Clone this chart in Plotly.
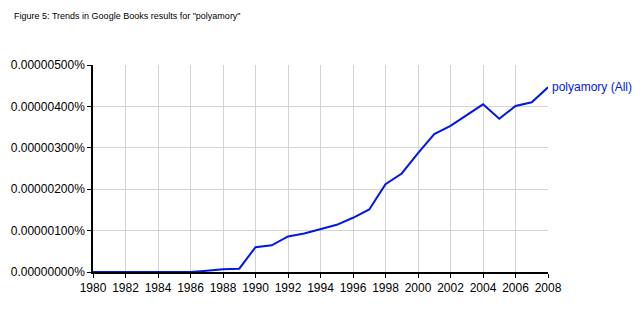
import plotly.graph_objects as go

years = list(range(1980, 2009))
# values in percent
values = [0, 0, 0, 0, 0, 0, 0, 0.03e-6, 0.065e-6, 0.08e-6,
          0.60e-6, 0.645e-6, 0.86e-6, 0.93e-6, 1.04e-6, 1.14e-6, 1.31e-6, 1.51e-6,
          2.12e-6, 2.38e-6, 2.87e-6, 3.33e-6, 3.53e-6, 3.78e-6, 4.05e-6,
          3.70e-6, 4.01e-6, 4.10e-6, 4.46e-6]
series_name = "polyamory (All)"
title_text = 'Figure 5: Trends in Google Books results for "polyamory"'
x_ticks = list(range(1980, 2009, 2))
y_ticks = [0, 1e-6, 2e-6, 3e-6, 4e-6, 5e-6]
y_ticktext = ["0.00000000%", "0.00000100%", "0.00000200%", "0.00000300%",
              "0.00000400%", "0.00000500%"]

blue = "#0018e6"
font = "Arial, Liberation Sans, sans-serif"

fig = go.Figure()
fig.add_trace(go.Scatter(x=years, y=values, mode="lines",
                         line=dict(color=blue, width=2), name=series_name,
                         showlegend=False, cliponaxis=False))
fig.add_annotation(x=years[-1], y=values[-1], text=series_name, xref="x", yref="y",
                   xanchor="left", yanchor="middle", xshift=2, showarrow=False,
                   font=dict(family=font, size=12, color=blue))

fig.update_layout(
    width=640, height=320,
    margin=dict(l=93, r=92, t=65, b=48),
    paper_bgcolor="white", plot_bgcolor="white",
    title=dict(text=title_text, x=0.022, xanchor="left", y=1 - 16/320, yanchor="middle",
               font=dict(family=font, size=9, color="black")),
    font=dict(family=font, size=12, color="black"),
)
fig.update_xaxes(range=[1980, 2008], tickvals=x_ticks, showline=True, linecolor="black",
                 linewidth=1.5, ticks="outside", ticklen=4, tickcolor="black",
                 showgrid=True, gridcolor="#d4d4d4", gridwidth=1, zeroline=False,
                 layer="below traces",
                 tickfont=dict(family=font, size=12, color="black"))
fig.update_yaxes(range=[0, 5e-6], tickvals=y_ticks, ticktext=y_ticktext,
                 showline=True, linecolor="black", linewidth=1.5, ticks="outside",
                 ticklen=4, tickcolor="black", showgrid=True, gridcolor="#d4d4d4",
                 gridwidth=1, zeroline=False, layer="below traces",
                 tickfont=dict(family=font, size=12, color="black"))

fig.write_html("out.html")
